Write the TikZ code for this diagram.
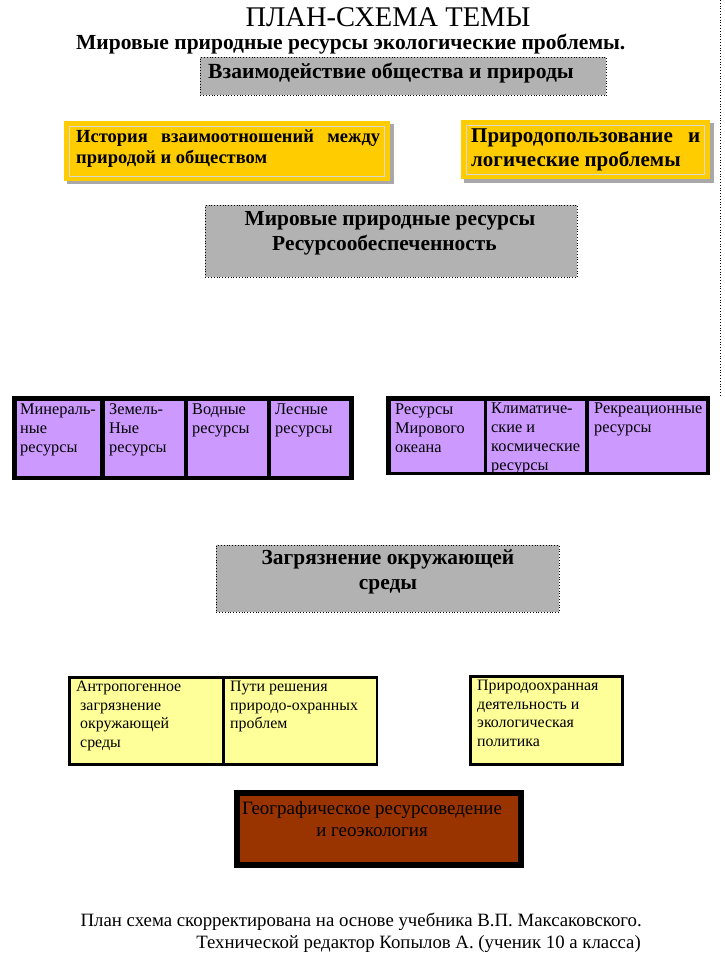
\documentclass[tikz,border=0pt]{standalone}
\usepackage{fontspec}
\setmainfont{Liberation Serif}
\usetikzlibrary{positioning}
\definecolor{boxgray}{HTML}{B2B2B2}
\definecolor{boxorange}{HTML}{FFCC00}
\definecolor{boxpurple}{HTML}{CC99FF}
\definecolor{boxyellow}{HTML}{FFFF99}
\definecolor{boxbrown}{HTML}{993300}
\definecolor{shadowgray}{HTML}{A8A8A8}
\definecolor{innerline}{HTML}{D8D8D8}
\tikzset{
  graybox/.style={draw=black, dotted, line width=0.8pt, fill=boxgray, anchor=north west, inner sep=0pt},
  orangebox/.style={fill=boxorange, draw=boxorange, anchor=north west, inner sep=0pt},
  innerrule/.style={draw=innerline, line width=1pt, anchor=north west, inner sep=0pt},
  shadowbox/.style={fill=shadowgray, anchor=north west, inner sep=0pt},
  frame/.style={fill=black, anchor=north west, inner sep=0pt},
  cell/.style={fill=boxpurple, anchor=north west, inner sep=0pt},
  ycell/.style={fill=boxyellow, anchor=north west, inner sep=0pt},
  celltext/.style={anchor=north west, inner sep=0pt, align=left, font=\fontsize{16.3}{19}\selectfont},
  ytext/.style={anchor=north west, inner sep=0pt, align=left, font=\fontsize{15.9}{18.5}\selectfont},
  headtext/.style={inner sep=0pt, align=center, font=\fontsize{21.4}{25}\selectfont\bfseries},
}
\begin{document}
\begin{tikzpicture}[x=1pt,y=-1pt]
\useasboundingbox (0,0) rectangle (724,956);
% right dotted guide
\coordinate (guideTop) at (720,0);
\coordinate (guideBot) at (720,396);
\draw[dotted, line width=0.8pt] (guideTop) -- (guideBot);

% titles
\node[inner sep=0pt, font=\fontsize{28.5}{30}\selectfont] (title) at (388,17) {ПЛАН-СХЕМА ТЕМЫ};
\node[inner sep=0pt, anchor=west, font=\fontsize{21.5}{24}\selectfont\bfseries] (subtitle) at (76,44) {Мировые природные ресурсы экологические проблемы.};

% gray box 1
\node[graybox, minimum width=406pt, minimum height=38pt] (g1) at (200,57) {};
\node[inner sep=0pt, anchor=west, font=\fontsize{21.6}{24}\selectfont\bfseries] (g1t) at (208,73) {Взаимодействие общества и природы};

% orange box 1
\node[shadowbox, minimum width=327pt, minimum height=60pt] (o1s) at (67,124) {};
\node[orangebox, minimum width=325pt, minimum height=59pt] (o1) at (64,121) {};
\node[innerrule, minimum width=315pt, minimum height=50pt] (o1i) at (69,126) {};
\node[inner sep=0pt, anchor=north west, align=justify, text width=304pt, font=\fontsize{18.5}{21}\selectfont\bfseries] (o1t) at (76,130) {История взаимоотношений между природой и обществом};

% orange box 2
\node[shadowbox, minimum width=250pt, minimum height=60pt] (o2s) at (464,123) {};
\node[orangebox, minimum width=248pt, minimum height=58pt] (o2) at (461,120) {};
\node[innerrule, minimum width=238pt, minimum height=49pt] (o2i) at (466,125) {};
\node[inner sep=0pt, anchor=north west, align=justify, text width=229pt, font=\fontsize{21}{24}\selectfont\bfseries] (o2t) at (471,129) {Природопользование и логические проблемы};

% gray box 2
\node[graybox, minimum width=372pt, minimum height=72pt] (g2) at (205,205) {};
\node[headtext] (g2a) at (390,221) {Мировые природные ресурсы};
\node[headtext, anchor=west] (g2b) at (272,245) {Ресурсообеспеченность};

% purple group 1
\node[frame, minimum width=342pt, minimum height=84pt] (pf1) at (12,396) {};
\node[cell, minimum width=83pt, minimum height=75pt] (p1) at (17,401) {};
\node[cell, minimum width=79pt, minimum height=75pt] (p2) at (105,401) {};
\node[cell, minimum width=79pt, minimum height=75pt] (p3) at (188,401) {};
\node[cell, minimum width=78pt, minimum height=75pt] (p4) at (271,401) {};
\node[celltext] (p1t) at (20,403.5) {Минераль-\\ные\\ресурсы};
\node[celltext] (p2t) at (109,403.5) {Земель-\\Ные\\ресурсы};
\node[celltext] (p3t) at (192,403.5) {Водные\\ресурсы};
\node[celltext] (p4t) at (275,403.5) {Лесные\\ресурсы};

% purple group 2
\node[frame, minimum width=324pt, minimum height=79pt] (pf2) at (386,396) {};
\node[cell, minimum width=93pt, minimum height=71pt] (q1) at (391,401) {};
\node[cell, minimum width=98pt, minimum height=71pt] (q2) at (487,401) {};
\node[cell, minimum width=117pt, minimum height=71pt] (q3) at (589,401) {};
\node[celltext] (q1t) at (395,403.5) {Ресурсы\\Мирового\\океана};
\node[celltext] (q2t) at (491,402.5) {Климатиче-\\ские и\\космические\\ресурсы};
\node[celltext] (q3t) at (594,402.5) {Рекреационные\\ресурсы};

% gray box 3
\node[graybox, minimum width=343pt, minimum height=67pt] (g3) at (216,545) {};
\node[headtext] (g3t) at (388,572) {Загрязнение окружающей\\среды};

% yellow group
\node[frame, minimum width=310pt, minimum height=90pt] (yf) at (68,676) {};
\node[ycell, minimum width=151pt, minimum height=84pt] (y1) at (71,679) {};
\node[ycell, minimum width=151pt, minimum height=84pt] (y2) at (225,679) {};
\node[ytext] (y1t) at (76,681) {Антропогенное\\\hspace*{4pt}загрязнение\\\hspace*{4pt}окружающей\\\hspace*{4pt}среды};
\node[ytext] (y2t) at (230,681) {Пути решения\\природо-охранных\\проблем};

\node[frame, minimum width=155pt, minimum height=91pt] (yf2) at (469,675) {};
\node[ycell, minimum width=149pt, minimum height=85pt] (y3) at (472,678) {};
\node[ytext] (y3t) at (477,680) {Природоохранная\\деятельность и\\экологическая\\политика};

% brown box
\node[frame, minimum width=290pt, minimum height=78pt] (bf) at (234,790) {};
\node[fill=boxbrown, anchor=north west, inner sep=0pt, minimum width=278pt, minimum height=66pt] (b) at (240,796) {};
\node[inner sep=0pt, align=center, font=\fontsize{18.9}{22}\selectfont] (bt) at (372,819) {Географическое ресурсоведение\\и геоэкология};

% footer
\node[inner sep=0pt, anchor=east, font=\fontsize{18.8}{20}\selectfont] (f1) at (642,922) {План схема скорректирована на основе учебника В.П. Максаковского.};
\node[inner sep=0pt, anchor=east, font=\fontsize{18.8}{20}\selectfont] (f2) at (641,944) {Технической редактор Копылов А. (ученик 10 а класса)};
\end{tikzpicture}
\end{document}
